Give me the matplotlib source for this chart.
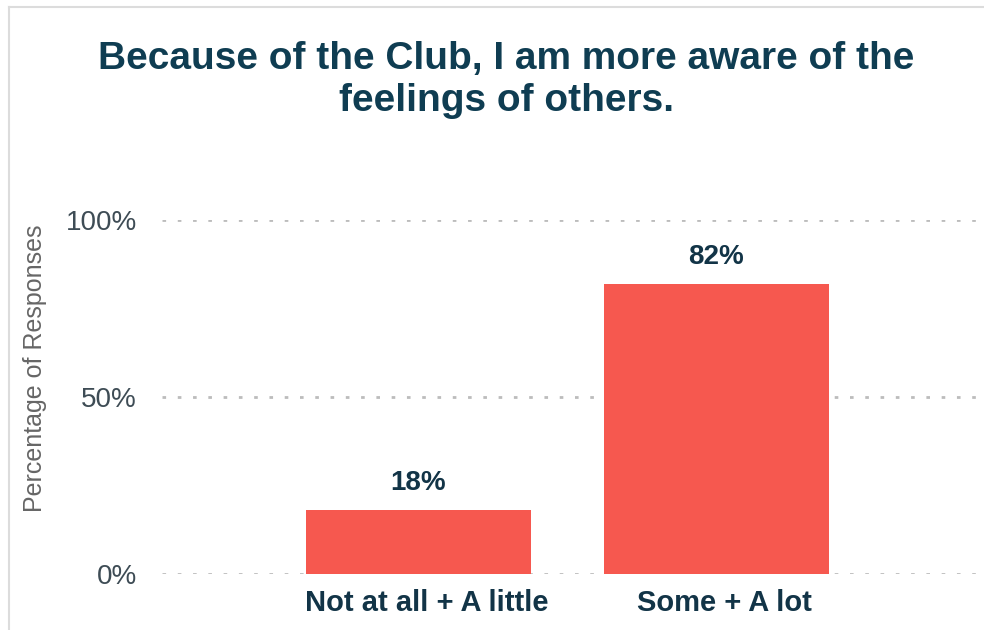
import matplotlib.pyplot as plt
from matplotlib.lines import Line2D

# data
categories = ["Not at all + A little", "Some + A lot"]
values = [18, 82]
value_labels = ["18%", "82%"]
yticks = [0, 50, 100]
ytick_labels = ["0%", "50%", "100%"]
title = "Because of the Club, I am more aware of the\nfeelings of others."

plt.rcParams['font.family'] = ['Liberation Sans', 'DejaVu Sans']

bar_color = "#F6584F"
dark = "#123447"
grey_txt = "#3e4c55"

fig = plt.figure(figsize=(9.84, 6.30), dpi=100)
ax = fig.add_axes([162/984, 1-574/630, 1-162/984, (574-220)/630])

xs = list(range(len(categories)))
ax.bar(xs, values, width=0.755, color=bar_color, zorder=3)
for x, v, lab in zip(xs, values, value_labels):
    ax.annotate(lab, (x, v), xytext=(0, 10), textcoords="offset points",
                ha="center", va="bottom", fontsize=20, fontweight="bold",
                color=dark)

# category names, set a touch right of the bar centres like the original
for x, cat in zip(xs, categories):
    ax.annotate(cat, (x, 0), xycoords=("data", "axes fraction"),
                xytext=(6, -11), textcoords="offset points",
                ha="center", va="top", fontsize=21, fontweight="bold",
                color=dark)

ax.set_xlim(-0.861, 1.898)
ax.set_ylim(0, 100)
ax.set_yticks(yticks)
ax.set_yticklabels(ytick_labels, fontsize=20, color=grey_txt)
ax.set_xticks([])
ax.tick_params(axis="both", length=0)
ax.tick_params(axis="y", pad=18)
for sp in ax.spines.values():
    sp.set_visible(False)
ax.grid(axis="y", color="#bcbcbc", linewidth=2, dashes=(1.3, 4.2), zorder=0)
ax.set_ylabel("Percentage of Responses", fontsize=18, color="#666666")
ax.yaxis.set_label_coords(-115/822, (574-368)/354)

fig.text(506/984, 1-41/630, title, ha="center", va="top", fontsize=28,
         fontweight="bold", color="#0f3d52", linespacing=1.21)

# thin frame at left and top
fig.add_artist(Line2D([9/984, 9/984], [0, 1-7/630], transform=fig.transFigure,
                      color="#dcdcdc", linewidth=1.5))
fig.add_artist(Line2D([9/984, 1], [1-7/630, 1-7/630], transform=fig.transFigure,
                      color="#dcdcdc", linewidth=1.5))

fig.savefig("out.png", dpi=100)
